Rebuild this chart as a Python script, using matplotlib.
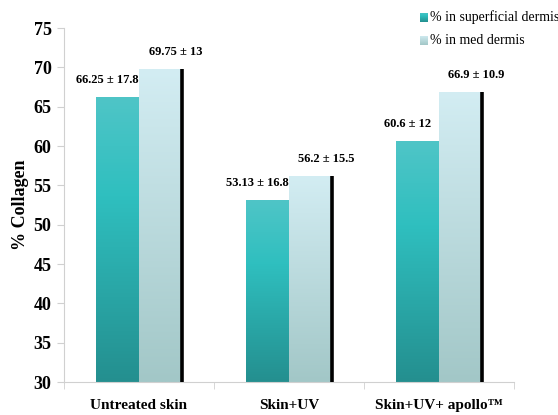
import numpy as np
import matplotlib.pyplot as plt
from matplotlib.colors import LinearSegmentedColormap

# data
categories = ['Untreated skin', 'Skin+UV', 'Skin+UV+ apollo™']
superficial = [66.25, 53.13, 60.6]
superficial_sd = [17.8, 16.8, 12]
med = [69.75, 56.2, 66.9]
med_sd = [13, 15.5, 10.9]

plt.rcParams['font.family'] = ['Liberation Serif', 'DejaVu Serif']

teal_cmap = LinearSegmentedColormap.from_list(
    'teal', [(0.0, '#248f8f'), (0.65, '#2fbfbf'), (1.0, '#4fc5c7')])
light_cmap = LinearSegmentedColormap.from_list(
    'light', [(0.0, '#a2c7c7'), (1.0, '#d3edf3')])

fig = plt.figure(figsize=(5.58, 4.15), dpi=100)
ax = fig.add_axes([0.1147, 0.0795, 0.8063, 0.853])

x = np.arange(len(categories))
w = 0.287
grad = np.linspace(0, 1, 256).reshape(-1, 1)


def gradient_bars(xs, vals, cmap):
    bars = ax.bar(xs, vals, w, bottom=0, color='none', edgecolor='none')
    for b in bars:
        x0, y0 = b.get_x(), 30
        x1, y1 = b.get_x() + b.get_width(), b.get_height()
        im = ax.imshow(grad, cmap=cmap, aspect='auto', origin='lower',
                       extent=[x0, x1, y0, y1], zorder=2)
        im.set_clip_path(b)
    return bars


b1 = gradient_bars(x - w / 2, superficial, teal_cmap)
b2 = gradient_bars(x + w / 2, med, light_cmap)

# black edge on right of the back bars
for b in b2:
    xr = b.get_x() + b.get_width()
    ax.plot([xr, xr], [30, b.get_height()], color='black', lw=2.6,
            solid_capstyle='butt', zorder=3)

for i in range(len(categories)):
    ax.annotate(f'{superficial[i]:g} ± {superficial_sd[i]:g}',
                (x[i] - w / 2, superficial[i]), xytext=(-7, 8),
                textcoords='offset points', ha='center', va='bottom',
                fontsize=9, fontweight='bold')
    ax.annotate(f'{med[i]:g} ± {med_sd[i]:g}',
                (x[i] + w / 2, med[i]), xytext=(11, 8),
                textcoords='offset points', ha='center', va='bottom',
                fontsize=9, fontweight='bold')

ax.set_xlim(-0.5, len(categories) - 0.5)
ax.set_ylim(30, 75)
ax.set_yticks(range(30, 76, 5))
ax.set_xticks(x)
ax.set_xticklabels(categories, fontsize=11, fontweight='bold')
ax.set_xticks(np.arange(-0.5, len(categories), 1), minor=True)
ax.tick_params(axis='x', which='major', length=0, pad=12)
ax.tick_params(axis='x', which='minor', length=5, color='#d0d0d0')
ax.tick_params(axis='y', length=5, color='#d0d0d0', labelsize=13, pad=4)
for lab in ax.get_yticklabels():
    lab.set_fontweight('bold')
ax.set_ylabel('% Collagen', fontsize=13, fontweight='bold', labelpad=3)

for s in ['top', 'right']:
    ax.spines[s].set_visible(False)
for s in ['left', 'bottom']:
    ax.spines[s].set_color('#d0d0d0')

# legend
for i, (cmap, label) in enumerate([(teal_cmap, '% in superficial dermis'),
                                    (light_cmap, '% in med dermis')]):
    yl = 0.958 - i * 0.055
    lax = fig.add_axes([0.753, yl - 0.012, 0.013, 0.022])
    lax.imshow(grad, cmap=cmap, aspect='auto', origin='lower')
    lax.axis('off')
    fig.text(0.771, yl, label, fontsize=10, va='center', ha='left')

fig.savefig('out.png', dpi=100)
